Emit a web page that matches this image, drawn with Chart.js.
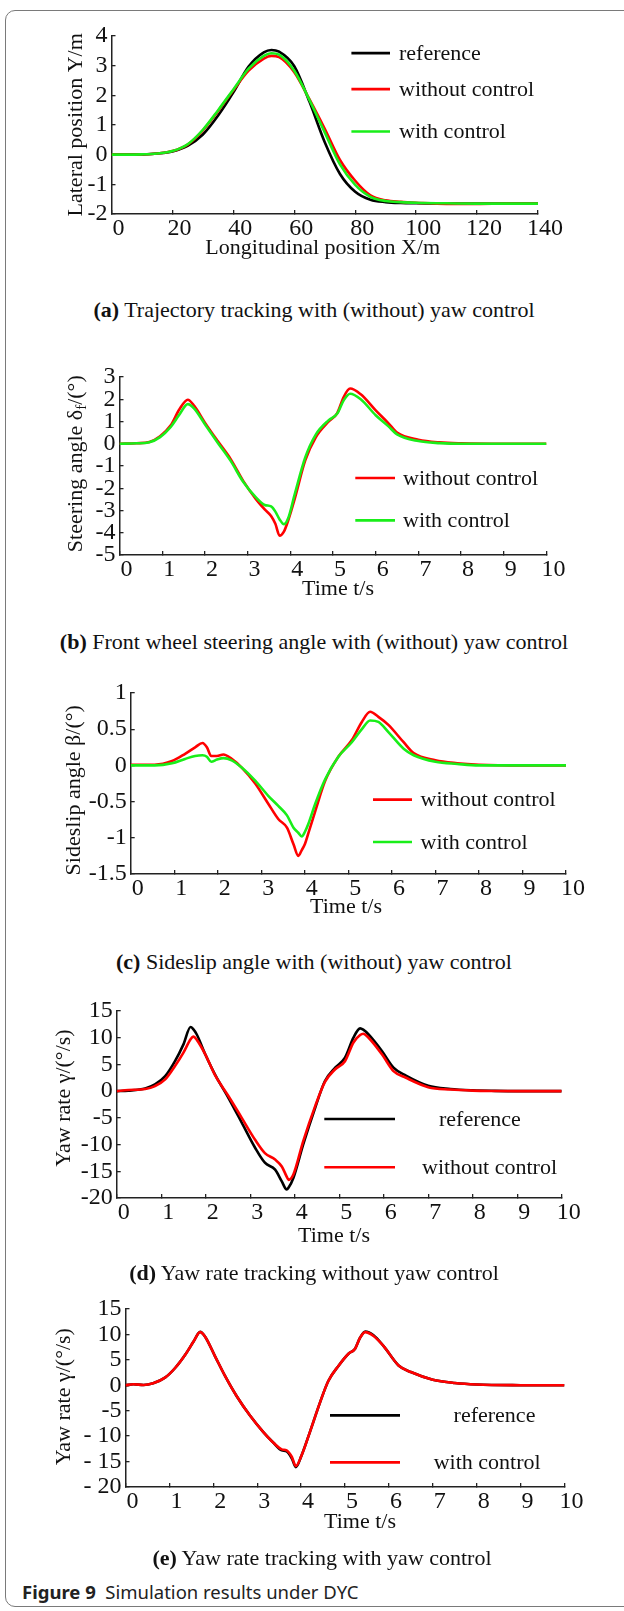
<!DOCTYPE html>
<html>
<head>
<meta charset="utf-8">
<script src="https://cdn.jsdelivr.net/npm/chart.js@4.4.1/dist/chart.umd.min.js"></script>
<style>
body{margin:0;background:#fff;width:624px;height:1611px;position:relative;overflow:hidden;font-family:"Liberation Serif",serif;color:#111;}
.frame{position:absolute;left:5px;top:10px;width:640px;height:1597px;border:1.3px solid #7a7a7a;border-radius:10px;box-sizing:border-box;}
canvas{position:absolute;left:0;}
.cap{position:absolute;left:0;width:628px;font-size:22px;line-height:26px;white-space:nowrap;text-align:center;}
.fig{position:absolute;left:22px;top:1580px;font-family:"Noto Sans",sans-serif;font-size:18.5px;line-height:24px;color:#222;white-space:nowrap;}
</style>
</head>
<body>
<div class="frame"></div>

<script>
// (a) trajectory, X/m
var posX = [0,5,10,15,20,25,30,35,40,45,50,52.5,55,60,65,70,75,80,85,90,95,100,110,120,130,140];
var latRef = [0,0,0.01,0.04,0.11,0.3,0.68,1.32,2.1,2.97,3.45,3.53,3.47,2.98,1.78,0.42,-0.65,-1.25,-1.52,-1.6,-1.63,-1.64,-1.65,-1.65,-1.65,-1.65];
var latWithout = [0,0,0.01,0.04,0.12,0.34,0.82,1.47,2.17,2.83,3.24,3.33,3.29,2.78,1.86,0.87,-0.18,-0.88,-1.37,-1.54,-1.59,-1.62,-1.66,-1.66,-1.65,-1.65];
var latWith = [0,0,0.01,0.04,0.12,0.35,0.84,1.5,2.2,2.9,3.33,3.42,3.37,2.83,1.84,0.75,-0.33,-1.02,-1.42,-1.56,-1.6,-1.62,-1.64,-1.65,-1.65,-1.65];

// (b) front wheel steering angle
var timeB = [0,0.4,0.7,0.95,1.2,1.4,1.6,1.75,2.0,2.3,2.6,2.9,3.2,3.4,3.55,3.65,3.75,3.85,3.95,4.1,4.35,4.6,4.9,5.1,5.25,5.4,5.65,6.0,6.3,6.5,7.0,7.5,8.0,9.0,10.0];
var steerWithout = [0,0.02,0.08,0.34,0.83,1.54,1.98,1.7,0.95,0.12,-0.68,-1.68,-2.5,-2.95,-3.25,-3.6,-4.13,-3.95,-3.45,-2.5,-0.75,0.3,1.0,1.38,2.1,2.48,2.22,1.5,0.92,0.5,0.18,0.06,0.02,0,0];
var steerWith = [0,0.02,0.07,0.3,0.76,1.3,1.78,1.58,0.88,0.05,-0.76,-1.72,-2.42,-2.75,-2.82,-3.05,-3.4,-3.62,-3.35,-2.3,-0.62,0.42,1.06,1.36,1.95,2.25,2.0,1.28,0.78,0.42,0.12,0.03,0,0,0];

// (c) sideslip angle
var timeC = [0,0.55,0.95,1.25,1.48,1.65,1.75,1.85,1.98,2.13,2.32,2.55,2.86,3.16,3.39,3.59,3.74,3.85,3.93,4.0,4.08,4.24,4.47,4.77,5.08,5.31,5.5,5.69,5.92,6.27,6.5,7.0,7.5,8.0,9.0,10.0];
var slipWithout = [0.01,0.01,0.06,0.16,0.25,0.31,0.25,0.13,0.13,0.15,0.09,-0.03,-0.25,-0.53,-0.74,-0.86,-1.09,-1.25,-1.17,-1.09,-0.94,-0.63,-0.21,0.12,0.35,0.6,0.74,0.67,0.56,0.32,0.17,0.07,0.03,0.01,0,0];
var slipWith = [0,0,0.03,0.09,0.13,0.14,0.12,0.05,0.08,0.1,0.07,-0.03,-0.21,-0.42,-0.56,-0.69,-0.86,-0.93,-0.98,-0.92,-0.81,-0.53,-0.19,0.12,0.32,0.5,0.62,0.6,0.46,0.23,0.14,0.05,0.02,0,0,0];

// (d) yaw rate without control
var timeD = [0,0.26,0.64,0.86,1.09,1.31,1.5,1.66,1.72,1.8,1.99,2.21,2.51,2.81,3.11,3.33,3.56,3.71,3.82,3.86,3.97,4.19,4.46,4.68,4.91,5.13,5.32,5.47,5.54,5.66,5.96,6.22,6.5,7.0,7.5,8.0,8.5,9.0,10.0];
var yawRefD = [0,0.1,0.5,1.25,2.8,5.6,8.75,12.0,11.6,10.6,6.9,3.1,-1.25,-5.9,-10.6,-13.4,-14.7,-16.9,-18.4,-18.1,-16.25,-10,-3.1,1.9,4.4,6.25,10,11.75,11.5,10.6,7.5,4.4,2.9,1.0,0.4,0.15,0.05,0,0];
var yawWithoutD = [0,0.2,0.4,0.95,2.2,4.7,7.2,9.7,10.2,9.6,6.9,3.0,-0.9,-5,-9.1,-11.6,-12.8,-14.1,-16.0,-16.6,-15.6,-9.4,-2.8,1.75,4.1,5.6,9.1,10.5,10.75,10.0,6.9,3.75,2.5,0.75,0.3,0.1,0.03,0,0];

// (e) yaw rate with control
var timeE = [0,0.18,0.41,0.63,0.9,1.13,1.36,1.55,1.7,1.81,2.04,2.27,2.53,2.84,3.14,3.37,3.56,3.67,3.79,3.88,4.01,4.2,4.43,4.62,4.85,5.08,5.23,5.34,5.46,5.65,5.88,6.22,6.5,7.0,7.5,8.0,9.0,10.0];
var yawRefE = [0,0.2,0.06,0.4,1.5,3.4,6.0,8.6,10.5,9.6,5.7,1.8,-2.1,-6.0,-9.2,-11.3,-12.8,-13.0,-14.4,-16.1,-13.8,-9.2,-3.4,0.85,3.8,6.2,7.2,9.3,10.55,9.85,7.7,3.9,2.6,1.1,0.45,0.15,0.02,0];
var yawWithE = [0,0.2,0.06,0.4,1.5,3.4,6.0,8.6,10.45,9.6,5.7,1.8,-2.1,-6.0,-9.2,-11.3,-12.6,-12.8,-14.1,-15.9,-13.8,-9.2,-3.4,0.85,3.8,6.2,7.2,9.3,10.45,9.7,7.7,3.9,2.6,1.1,0.45,0.15,0.02,0];

var BLACK = '#000000', RED = '#ff0000', GREEN = '#19ee19';
var serif = '"Liberation Serif", "Times New Roman", serif';

function pts(xs, ys) {
  return xs.map(function (x, i) { return { x: x, y: ys[i] }; });
}

// legend, axis titles drawn at fixed spots like the original figure
var annotPlugin = {
  id: 'annot',
  afterDraw: function (chart, args, o) {
    var ctx = chart.ctx;
    var dsets = chart.data.datasets;
    ctx.save();
    ctx.fillStyle = '#111';
    ctx.textBaseline = 'middle';
    ctx.font = '22px ' + serif;
    o.legend.forEach(function (it) {
      var ds = dsets[it.ds];
      ctx.strokeStyle = ds.borderColor;
      ctx.lineWidth = 2.6;
      ctx.beginPath();
      ctx.moveTo(o.lx1, it.y - o.top0);
      ctx.lineTo(o.lx2, it.y - o.top0);
      ctx.stroke();
      ctx.textAlign = 'left';
      ctx.fillText(ds.label, it.tx, it.y - o.top0 + 1);
    });
    ctx.textAlign = 'center';
    ctx.fillText(o.xTitle, o.xt[0], o.xt[1] - o.top0);

    // rotated y title, parts may be subscript
    ctx.translate(o.yt[0], o.yt[1] - o.top0);
    ctx.rotate(-Math.PI / 2);
    var w = 0;
    o.yTitle.forEach(function (p) {
      ctx.font = (p.sub ? '15px ' : '22px ') + serif;
      w += ctx.measureText(p.t).width;
    });
    var x = -w / 2;
    ctx.textAlign = 'left';
    o.yTitle.forEach(function (p) {
      ctx.font = (p.sub ? '15px ' : '22px ') + serif;
      ctx.fillText(p.t, x, p.sub ? 6 : 1);
      x += ctx.measureText(p.t).width;
    });
    ctx.restore();
  }
};

function axisStyle() {
  return {
    grid: { display: true, drawOnChartArea: false, drawTicks: true, tickLength: -4, color: '#222', lineWidth: 1.3 },
    border: { display: true, color: '#222', width: 1.5 }
  };
}

function panel(p) {
  var top0 = p.T - 30;
  var H = Math.round(p.B - p.T + 100);
  var cv = document.createElement('canvas');
  cv.width = 624;
  cv.height = H;
  cv.style.top = top0 + 'px';
  document.body.appendChild(cv);

  var xa = axisStyle(), ya = axisStyle();
  xa.type = 'linear';
  xa.min = p.xMin; xa.max = p.xMax; xa.offset = false;
  xa.afterFit = function (s) { s.height = 30; };
  xa.ticks = { stepSize: p.xStep, font: { family: serif, size: 24 }, color: '#111', padding: 4,
    labelOffset: 7, maxRotation: 0, minRotation: 0, autoSkip: false };
  ya.min = p.yMin; ya.max = p.yMax;
  ya.afterFit = function (s) { s.width = p.L; };
  ya.ticks = { stepSize: p.yStep, font: { family: serif, size: 24 }, color: '#111', padding: 8,
    autoSkip: false, callback: p.yFmt || function (v) { return v; } };

  new Chart(cv, {
    type: 'line',
    data: {
      datasets: p.series.map(function (s) {
        return {
          label: s.label, data: pts(p.xs, s.ys), order: s.order,
          borderColor: s.color, borderWidth: 2.6, pointRadius: 0,
          cubicInterpolationMode: 'monotone', fill: false, borderJoinStyle: 'round'
        };
      })
    },
    options: {
      responsive: false,
      animation: false,
      layout: { padding: { left: 0, top: 30, right: 624 - p.R, bottom: 40 } },
      scales: { x: xa, y: ya },
      plugins: {
        legend: { display: false },
        tooltip: { enabled: false },
        annot: {
          top0: top0, lx1: p.lx[0], lx2: p.lx[1], legend: p.legend,
          xTitle: p.xTitle, xt: p.xt, yTitle: p.yTitle, yt: p.yt
        }
      }
    },
    plugins: [annotPlugin]
  });
}

panel({
  L: 111.5, R: 538, T: 36.2, B: 214.3,
  xs: posX, xMin: 0, xMax: 140, xStep: 20, yMin: -2, yMax: 4, yStep: 1,
  series: [
    { label: 'reference', ys: latRef, color: BLACK, order: 3 },
    { label: 'without control', ys: latWithout, color: RED, order: 2 },
    { label: 'with control', ys: latWith, color: GREEN, order: 1 }
  ],
  lx: [351.4, 390],
  legend: [{ ds: 0, y: 53.3, tx: 399 }, { ds: 1, y: 89.3, tx: 399 }, { ds: 2, y: 131.7, tx: 399 }],
  xTitle: 'Longitudinal position X/m', xt: [322.7, 248.3],
  yTitle: [{ t: 'Lateral position Y/m' }], yt: [75.6, 125]
});

panel({
  L: 119.5, R: 546.5, T: 377.3, B: 555.3,
  xs: timeB, xMin: 0, xMax: 10, xStep: 1, yMin: -5, yMax: 3, yStep: 1,
  series: [
    { label: 'without control', ys: steerWithout, color: RED, order: 2 },
    { label: 'with control', ys: steerWith, color: GREEN, order: 1 }
  ],
  lx: [355.3, 395],
  legend: [{ ds: 0, y: 478.3, tx: 403 }, { ds: 1, y: 520.7, tx: 403 }],
  xTitle: 'Time t/s', xt: [338, 589.3],
  yTitle: [{ t: 'Steering angle δ' }, { t: 'f', sub: true }, { t: '/(°)' }], yt: [75.6, 464]
});

panel({
  L: 130.7, R: 566, T: 692.7, B: 873.3,
  xs: timeC, xMin: 0, xMax: 10, xStep: 1, yMin: -1.5, yMax: 1, yStep: 0.5,
  series: [
    { label: 'without control', ys: slipWithout, color: RED, order: 2 },
    { label: 'with control', ys: slipWith, color: GREEN, order: 1 }
  ],
  lx: [373, 412],
  legend: [{ ds: 0, y: 799.3, tx: 420.6 }, { ds: 1, y: 841.7, tx: 420.6 }],
  xTitle: 'Time t/s', xt: [346, 906.7],
  yTitle: [{ t: 'Sideslip angle β/(°)' }], yt: [73.6, 790]
});

panel({
  L: 116.7, R: 561.7, T: 1011, B: 1198.3,
  xs: timeD, xMin: 0, xMax: 10, xStep: 1, yMin: -20, yMax: 15, yStep: 5,
  series: [
    { label: 'reference', ys: yawRefD, color: BLACK, order: 2 },
    { label: 'without control', ys: yawWithoutD, color: RED, order: 1 }
  ],
  lx: [324.3, 395],
  legend: [{ ds: 0, y: 1119, tx: 439 }, { ds: 1, y: 1167.3, tx: 422 }],
  xTitle: 'Time t/s', xt: [334, 1236],
  yTitle: [{ t: 'Yaw rate γ/(°/s)' }], yt: [63.7, 1098]
});

panel({
  L: 125.5, R: 564.5, T: 1309.3, B: 1487.3,
  xs: timeE, xMin: 0, xMax: 10, xStep: 1, yMin: -20, yMax: 15, yStep: 5,
  yFmt: function (v) { return v <= -10 ? '- ' + (-v) : v; },
  series: [
    { label: 'reference', ys: yawRefE, color: BLACK, order: 2 },
    { label: 'with control', ys: yawWithE, color: RED, order: 1 }
  ],
  lx: [330, 400],
  legend: [{ ds: 0, y: 1415.7, tx: 453.6 }, { ds: 1, y: 1462.7, tx: 433.7 }],
  xTitle: 'Time t/s', xt: [360, 1522.7],
  yTitle: [{ t: 'Yaw rate γ/(°/s)' }], yt: [63.7, 1397]
});
</script>

<div class="cap" style="top:297px;"><b>(a)</b> Trajectory tracking with (without) yaw control</div>
<div class="cap" style="top:629px;"><b>(b)</b> Front wheel steering angle with (without) yaw control</div>
<div class="cap" style="top:949px;"><b>(c)</b> Sideslip angle with (without) yaw control</div>
<div class="cap" style="top:1260px;"><b>(d)</b> Yaw rate tracking without yaw control</div>
<div class="cap" style="top:1545px;left:8px;"><b>(e)</b> Yaw rate tracking with yaw control</div>
<div class="fig"><b>Figure 9</b>&nbsp; Simulation results under DYC</div>
</body>
</html>
